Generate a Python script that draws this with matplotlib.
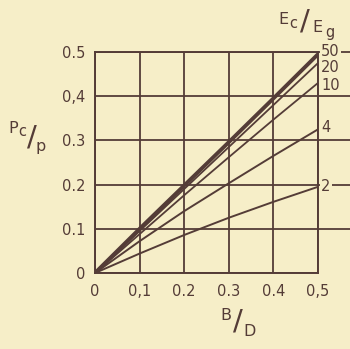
import matplotlib
matplotlib.use("Agg")
import matplotlib.pyplot as plt
import numpy as np

# data
bd = [0.0, 0.1, 0.2, 0.3, 0.4, 0.5]
ratios = ["50", "20", "10", "4", "2"]
pc_50 = [0.0, 0.100, 0.198, 0.296, 0.395, 0.495]
pc_20 = [0.0, 0.095, 0.190, 0.285, 0.380, 0.475]
pc_10 = [0.0, 0.088, 0.176, 0.262, 0.347, 0.430]
pc_4 = [0.0, 0.072, 0.140, 0.203, 0.265, 0.325]
pc_2 = [0.0, 0.044, 0.086, 0.125, 0.161, 0.195]
label_y = [0.500, 0.464, 0.425, 0.330, 0.195]
xticklabels = ["0", "0,1", "0.2", "0.3", "0.4", "0,5"]
yticklabels = ["0", "0.1", "0.2", "0.3", "0,4", "0.5"]

BG = "#f6eec8"
INK = "#543c37"

W, H = 350, 349
fig = plt.figure(figsize=(W / 100, H / 100), dpi=100, facecolor=BG)
ax = fig.add_axes([95 / W, 1 - 273 / H, 223 / W, 221 / H])
ax.set_facecolor(BG)
ax.set_xlim(0, 0.5)
ax.set_ylim(0, 0.5)

# extended horizontal grid lines beyond x=0.5
for yv in [0.1, 0.2, 0.3, 0.4, 0.5]:
    ax.plot([0.5, 0.58], [yv, yv], color=INK, lw=1.3, clip_on=False, zorder=1)

ax.set_xticks(bd)
ax.set_yticks(bd)
ax.grid(True, color=INK, lw=1.3)
ax.tick_params(length=0, labelsize=10.5, colors=INK)
ax.tick_params(axis="x", pad=8)
ax.tick_params(axis="y", pad=7)
ax.set_xticklabels(xticklabels)
ax.set_yticklabels(yticklabels)
for s in ax.spines.values():
    s.set_color(INK)
    s.set_linewidth(1.4)

series = [pc_50, pc_20, pc_10, pc_4, pc_2]
widths = [2.8, 1.3, 1.3, 1.4, 1.4]
for ys, lw in zip(series, widths):
    ax.plot(bd, ys, color=INK, lw=lw, zorder=3, solid_capstyle="butt")

for name, ly in zip(ratios, label_y):
    ax.text(0.507, ly, name, color=INK, fontsize=10.5, va="center", ha="left",
            clip_on=False, zorder=4,
            bbox=dict(boxstyle="square,pad=0.08", fc=BG, ec="none"))

def ftxt(px, py, s, size=10, **kw):
    fig.text(px / W, 1 - py / H, s, color=INK, fontsize=size,
             ha="center", va="center", **kw)

# y-axis label Pc/p
ftxt(13, 129, "P", 11.5)
ftxt(22, 132, "c", 10.5)
ftxt(32, 137, "/", 21)
ftxt(41, 146, "p", 11.5)

# x-axis label B/D
ftxt(226, 316, "B", 11.5)
ftxt(238, 322, "/", 21)
ftxt(250, 331, "D", 11.5)

# Ec/Eg
ftxt(283, 19, "E", 11.5)
ftxt(293, 23, "c", 10.5)
ftxt(305, 22, "/", 21)
ftxt(317, 28, "E", 11.5)
ftxt(330, 33, "g", 10.5)

fig.savefig("out.png", dpi=100, facecolor=BG)
